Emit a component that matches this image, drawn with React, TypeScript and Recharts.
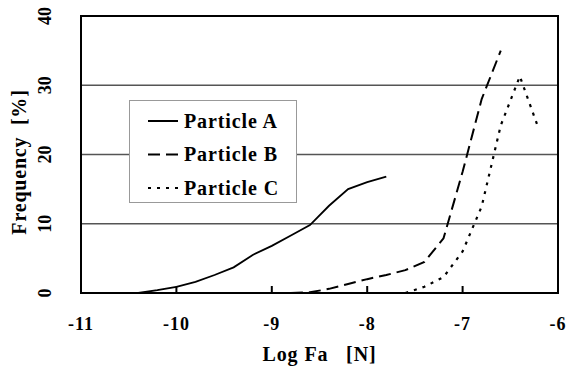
import React from 'react';
import { LineChart, Line, XAxis, YAxis, CartesianGrid, Legend, ReferenceArea } from 'recharts';

const aLogFa = [-10.4, -10.2, -10.0, -9.8, -9.6, -9.4, -9.2, -9.0, -8.8, -8.6, -8.4, -8.2, -8.0, -7.8];
const aFreq = [0, 0.4, 0.9, 1.6, 2.6, 3.7, 5.5, 6.8, 8.3, 9.8, 12.6, 15.0, 16.0, 16.8];

const bLogFa = [-8.8, -8.6, -8.4, -8.2, -8.0, -7.8, -7.6, -7.4, -7.2, -7.0, -6.8, -6.6];
const bFreq = [0, 0.1, 0.6, 1.3, 2.0, 2.6, 3.3, 4.5, 7.9, 17.5, 28.0, 35.0];

const cLogFa = [-7.6, -7.4, -7.2, -7.0, -6.8, -6.6, -6.4, -6.2];
const cFreq = [0, 0.9, 2.3, 6.0, 12.5, 24.2, 31.3, 23.6];

const xTicks = [-11, -10, -9, -8, -7, -6];
const yTicks = [0, 10, 20, 30, 40];
const seriesNames = ['Particle A', 'Particle B', 'Particle C'];
const dashes = ['', '12 6', '3 6'];

const toRows = (xs: number[], ys: number[]) => xs.map((x, i) => ({ x, y: ys[i] }));
const dataA = toRows(aLogFa, aFreq);
const dataB = toRows(bLogFa, bFreq);
const dataC = toRows(cLogFa, cFreq);

const FONT = 'Liberation Serif';
const textStyle: React.CSSProperties = { fontFamily: FONT, fontWeight: 700 };

const XTick = (props: any) => {
  const { x, y, payload } = props;
  return (
    <text x={x} y={y} textAnchor="middle" style={textStyle} fontSize={18} letterSpacing={1} fill="#000">
      {String(payload.value)}
    </text>
  );
};

const LegendBox = () => (
  <div style={{ width: 168, height: 103, boxSizing: 'border-box', border: '1px solid #999', background: '#fff' }}>
    <svg width={166} height={101} style={{ display: 'block' }}>
      {seriesNames.map((n, i) => {
        const cy = 20 + i * 33.5;
        return (
          <g key={n}>
            <line x1={18} x2={48} y1={cy} y2={cy} stroke="#000" strokeWidth={2} strokeDasharray={dashes[i] || undefined} />
            <text x={54} y={cy + 6.5} style={textStyle} fontSize={20} letterSpacing={0.9} fill="#000">
              {n}
            </text>
          </g>
        );
      })}
    </svg>
  </div>
);

export default function App() {
  return (
    <div style={{ position: 'absolute', left: 0, top: 0, width: 568, height: 367, background: '#fff', fontFamily: FONT }}>
      <LineChart width={568} height={367} margin={{ top: 16, right: 10, bottom: 0, left: 0 }}>
        <CartesianGrid vertical={false} stroke="#555" strokeWidth={1.5} />
        <XAxis
          type="number"
          dataKey="x"
          domain={[-11, -6]}
          ticks={xTicks}
          height={74}
          axisLine={false}
          tickLine={{ stroke: '#000', strokeWidth: 2 }}
          tickSize={-7}
          tickMargin={44}
          tick={(p: any) => <XTick {...p} />}
          interval={0}
          label={(p: any) => {
            const vb = p.viewBox || {};
            return (
              <text x={vb.x + vb.width / 2} y={vb.y + 68} textAnchor="middle" style={textStyle} fontSize={20} letterSpacing={0.9} fill="#000">
                {'Log Fa\u00a0\u00a0\u00a0[N]'}
              </text>
            );
          }}
        />
        <YAxis
          type="number"
          domain={[0, 40]}
          ticks={yTicks}
          width={81}
          axisLine={false}
          tickLine={false}
          tickSize={6}
          tickMargin={30}
          tick={{ angle: -90, textAnchor: 'middle', fontSize: 18, fontWeight: 700, fontFamily: FONT, fill: '#000' }}
          interval={0}
          label={(p: any) => {
            const vb = p.viewBox || {};
            const cx = vb.x + 26;
            const cy = vb.y + vb.height / 2 + 7.5;
            return (
              <g transform={`translate(${cx}, ${cy}) rotate(-90)`}>
                <text x={0} y={0} textAnchor="middle" style={textStyle} fontSize={20} letterSpacing={0.8} fill="#000">
                  {'Frequency\u00a0\u00a0[%]'}
                </text>
              </g>
            );
          }}
        />
        <ReferenceArea x1={-11} x2={-6} y1={0} y2={40} fill="none" fillOpacity={0} stroke="#000" strokeWidth={2} />
        <Line data={dataA} dataKey="y" name={seriesNames[0]} type="linear" stroke="#000" strokeWidth={1.8} dot={false} isAnimationActive={false} />
        <Line data={dataB} dataKey="y" name={seriesNames[1]} type="linear" stroke="#000" strokeWidth={2} strokeDasharray={dashes[1]} dot={false} isAnimationActive={false} />
        <Line data={dataC} dataKey="y" name={seriesNames[2]} type="linear" stroke="#000" strokeWidth={2.2} strokeDasharray={dashes[2]} dot={false} isAnimationActive={false} />
        <Legend
          layout="vertical"
          align="center"
          verticalAlign="middle"
          content={() => <LegendBox />}
          wrapperStyle={{ left: 129, top: 100, width: 168, height: 103 }}
        />
      </LineChart>
    </div>
  );
}
